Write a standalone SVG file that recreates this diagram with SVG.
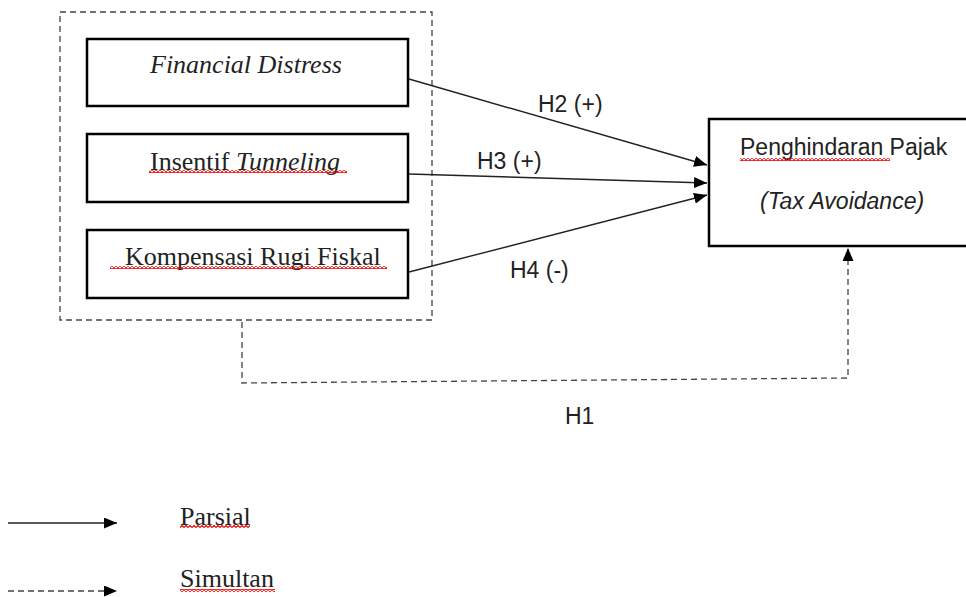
<svg xmlns="http://www.w3.org/2000/svg" width="966" height="597" viewBox="0 0 966 597">
<style>
.box{fill:#fff;stroke:#000;stroke-width:2.5}
.serif{font-family:"Liberation Serif","Times New Roman",serif;font-size:26px;fill:#222}
.sans{font-family:"Liberation Sans",Arial,sans-serif;font-size:23px;fill:#222}
.ln{stroke:#222;stroke-width:1.4;fill:none}
.dash{stroke:#444;stroke-width:1.3;fill:none;stroke-dasharray:6 4}
.sq{fill:url(#squig)}
</style>
<defs>
<marker id="ah" viewBox="0 0 13 11" refX="13" refY="5.5" markerWidth="13" markerHeight="11" markerUnits="userSpaceOnUse" orient="auto">
<path d="M0,0 L13,5.5 L0,11 Z" fill="#000"/>
</marker>
<pattern id="squig" width="4" height="3" patternUnits="userSpaceOnUse">
<path d="M0,2.5 L2,0.5 L4,2.5" stroke="#e00" stroke-width="1.2" fill="none"/>
</pattern>
</defs>
<rect width="966" height="597" fill="#fff"/>

<g id="group-independent">
<rect x="60" y="12" width="372" height="308" class="dash"/>
</g>

<g id="node-financial-distress">
<rect x="87" y="39" width="321" height="67" class="box"/>
<text x="150" y="73" class="serif" font-style="italic">Financial Distress</text>
</g>

<g id="node-insentif-tunneling">
<rect x="87" y="134" width="321" height="68" class="box"/>
<text x="150" y="170" class="serif">Insentif <tspan font-style="italic">Tunneling</tspan></text>
<rect x="149" y="170" width="198" height="3" class="sq"/>
</g>

<g id="node-kompensasi">
<rect x="87" y="230" width="321" height="68" class="box"/>
<text x="125" y="265" class="serif">Kompensasi Rugi Fiskal</text>
<rect x="110" y="266" width="277" height="3" class="sq"/>
</g>

<g id="node-tax-avoidance">
<rect x="709" y="119" width="262" height="127" class="box"/>
<text x="740" y="155" class="sans">Penghindaran Pajak</text>
<rect x="740" y="158" width="150" height="3" class="sq"/>
<text x="760" y="209" class="sans" font-style="italic">(Tax Avoidance)</text>
</g>

<g id="connectors">
<line x1="409" y1="79" x2="707" y2="165" class="ln" marker-end="url(#ah)"/>
<line x1="409" y1="174" x2="707" y2="183" class="ln" marker-end="url(#ah)"/>
<line x1="409" y1="272" x2="707" y2="195" class="ln" marker-end="url(#ah)"/>
<path d="M242,322 L242,383 L848,378 L848,248" class="dash" stroke-dasharray="5 3.5" marker-end="url(#ah)"/>
<text x="538" y="112" class="sans">H2 (+)</text>
<text x="477" y="169" class="sans">H3 (+)</text>
<text x="510" y="278" class="sans">H4 (-)</text>
<text x="565" y="424" class="sans">H1</text>
</g>

<g id="legend">
<line x1="8" y1="523" x2="117" y2="523" class="ln" marker-end="url(#ah)"/>
<line x1="8" y1="591" x2="117" y2="591" class="dash" stroke-dasharray="5 3.5" marker-end="url(#ah)"/>
<text x="180" y="525" class="serif">Parsial</text>
<rect x="180" y="525" width="70" height="3" class="sq"/>
<text x="180" y="587" class="serif">Simultan</text>
<rect x="180" y="589" width="95" height="3" class="sq"/>
</g>
</svg>
